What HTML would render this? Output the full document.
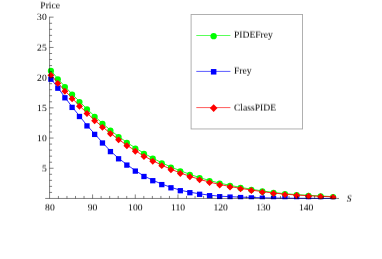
<!DOCTYPE html>
<html><head><meta charset="utf-8"><title>Price</title>
<style>html,body{margin:0;padding:0;background:#fff;}body{width:382px;height:259px;overflow:hidden;position:relative;font-family:"Liberation Serif",serif;}svg.m{position:absolute;left:0;top:0;}svg.l{position:absolute;will-change:transform;overflow:visible;font-family:"Liberation Serif",serif;font-size:9.6px;fill:#000;text-rendering:geometricPrecision;}</style>
</head><body>
<svg width="382" height="259" viewBox="0 0 382 259" class="m" style="will-change:transform;opacity:0.999">
<defs><clipPath id="pc"><rect x="40" y="10" width="305" height="189.3"/></clipPath></defs>
<rect width="382" height="259" fill="#fff"/>
<g clip-path="url(#pc)">
<polyline points="50.90,70.46 57.83,78.74 64.90,86.55 72.11,94.05 79.47,101.51 86.98,108.93 94.64,116.27 102.46,123.40 110.43,130.20 118.57,136.48 126.86,142.35 135.33,147.98 143.97,153.23 152.78,158.19 161.78,162.77 170.95,166.99 180.31,170.78 189.86,174.33 199.60,177.60 209.54,180.54 219.68,183.09 230.03,185.37 240.58,187.38 251.35,189.23 262.33,190.95 273.54,192.46 284.98,193.67 296.65,194.60 308.55,195.33 320.69,195.97 333.08,196.61" fill="none" stroke="#00ff00" stroke-width="0.85"/>
<circle cx="50.90" cy="70.96" r="3.1" fill="#00ff00"/>
<circle cx="57.83" cy="79.24" r="3.1" fill="#00ff00"/>
<circle cx="64.90" cy="87.05" r="3.1" fill="#00ff00"/>
<circle cx="72.11" cy="94.55" r="3.1" fill="#00ff00"/>
<circle cx="79.47" cy="102.01" r="3.1" fill="#00ff00"/>
<circle cx="86.98" cy="109.43" r="3.1" fill="#00ff00"/>
<circle cx="94.64" cy="116.77" r="3.1" fill="#00ff00"/>
<circle cx="102.46" cy="123.90" r="3.1" fill="#00ff00"/>
<circle cx="110.43" cy="130.70" r="3.1" fill="#00ff00"/>
<circle cx="118.57" cy="136.98" r="3.1" fill="#00ff00"/>
<circle cx="126.86" cy="142.85" r="3.1" fill="#00ff00"/>
<circle cx="135.33" cy="148.48" r="3.1" fill="#00ff00"/>
<circle cx="143.97" cy="153.73" r="3.1" fill="#00ff00"/>
<circle cx="152.78" cy="158.69" r="3.1" fill="#00ff00"/>
<circle cx="161.78" cy="163.27" r="3.1" fill="#00ff00"/>
<circle cx="170.95" cy="167.49" r="3.1" fill="#00ff00"/>
<circle cx="180.31" cy="171.28" r="3.1" fill="#00ff00"/>
<circle cx="189.86" cy="174.83" r="3.1" fill="#00ff00"/>
<circle cx="199.60" cy="178.10" r="3.1" fill="#00ff00"/>
<circle cx="209.54" cy="181.04" r="3.1" fill="#00ff00"/>
<circle cx="219.68" cy="183.59" r="3.1" fill="#00ff00"/>
<circle cx="230.03" cy="185.87" r="3.1" fill="#00ff00"/>
<circle cx="240.58" cy="187.88" r="3.1" fill="#00ff00"/>
<circle cx="251.35" cy="189.73" r="3.1" fill="#00ff00"/>
<circle cx="262.33" cy="191.45" r="3.1" fill="#00ff00"/>
<circle cx="273.54" cy="192.96" r="3.1" fill="#00ff00"/>
<circle cx="284.98" cy="194.17" r="3.1" fill="#00ff00"/>
<circle cx="296.65" cy="195.10" r="3.1" fill="#00ff00"/>
<circle cx="308.55" cy="195.83" r="3.1" fill="#00ff00"/>
<circle cx="320.69" cy="196.47" r="3.1" fill="#00ff00"/>
<circle cx="333.08" cy="197.11" r="3.1" fill="#00ff00"/>
<polyline points="50.90,78.70 57.83,87.70 64.90,97.30 72.11,106.90 79.47,116.00 86.98,125.40 94.64,133.90 102.46,142.50 110.43,151.10 118.57,158.30 126.86,164.60 135.33,170.60 143.97,176.00 152.78,180.20 161.78,184.10 170.95,187.30 180.31,190.20 189.86,192.20 199.60,193.80 209.54,195.20 219.68,196.20 230.03,196.65 240.58,197.10 251.35,197.50 262.33,197.80 273.54,198.05 284.98,198.20 296.65,198.30 308.55,198.35 320.69,198.40 333.08,198.40" fill="none" stroke="#0000ff" stroke-width="0.85"/>
<rect x="48.25" y="76.55" width="5.3" height="5.3" fill="#0000ff"/>
<rect x="55.18" y="85.55" width="5.3" height="5.3" fill="#0000ff"/>
<rect x="62.25" y="95.15" width="5.3" height="5.3" fill="#0000ff"/>
<rect x="69.46" y="104.75" width="5.3" height="5.3" fill="#0000ff"/>
<rect x="76.82" y="113.85" width="5.3" height="5.3" fill="#0000ff"/>
<rect x="84.33" y="123.25" width="5.3" height="5.3" fill="#0000ff"/>
<rect x="91.99" y="131.75" width="5.3" height="5.3" fill="#0000ff"/>
<rect x="99.81" y="140.35" width="5.3" height="5.3" fill="#0000ff"/>
<rect x="107.78" y="148.95" width="5.3" height="5.3" fill="#0000ff"/>
<rect x="115.92" y="156.15" width="5.3" height="5.3" fill="#0000ff"/>
<rect x="124.21" y="162.45" width="5.3" height="5.3" fill="#0000ff"/>
<rect x="132.68" y="168.45" width="5.3" height="5.3" fill="#0000ff"/>
<rect x="141.32" y="173.85" width="5.3" height="5.3" fill="#0000ff"/>
<rect x="150.13" y="178.05" width="5.3" height="5.3" fill="#0000ff"/>
<rect x="159.13" y="181.95" width="5.3" height="5.3" fill="#0000ff"/>
<rect x="168.30" y="185.15" width="5.3" height="5.3" fill="#0000ff"/>
<rect x="177.66" y="188.05" width="5.3" height="5.3" fill="#0000ff"/>
<rect x="187.21" y="190.05" width="5.3" height="5.3" fill="#0000ff"/>
<rect x="196.95" y="191.65" width="5.3" height="5.3" fill="#0000ff"/>
<rect x="206.89" y="193.05" width="5.3" height="5.3" fill="#0000ff"/>
<rect x="217.03" y="194.05" width="5.3" height="5.3" fill="#0000ff"/>
<rect x="227.38" y="194.45" width="5.3" height="5.3" fill="#0000ff"/>
<rect x="237.93" y="194.90" width="5.3" height="5.3" fill="#0000ff"/>
<rect x="248.70" y="195.25" width="5.3" height="5.3" fill="#0000ff"/>
<rect x="259.68" y="195.55" width="5.3" height="5.3" fill="#0000ff"/>
<rect x="270.89" y="195.80" width="5.3" height="5.3" fill="#0000ff"/>
<rect x="282.33" y="195.90" width="5.3" height="5.3" fill="#0000ff"/>
<rect x="294.00" y="195.95" width="5.3" height="5.3" fill="#0000ff"/>
<rect x="305.90" y="195.95" width="5.3" height="5.3" fill="#0000ff"/>
<rect x="318.04" y="196.00" width="5.3" height="5.3" fill="#0000ff"/>
<rect x="330.43" y="196.00" width="5.3" height="5.3" fill="#0000ff"/>
<polyline points="50.90,74.67 57.83,82.85 64.90,90.70 72.11,98.28 79.47,105.75 86.98,113.03 94.64,120.18 102.46,126.87 110.43,133.29 118.57,139.37 126.86,145.24 135.33,150.79 143.97,155.97 152.78,160.72 161.78,165.17 170.95,169.23 180.31,172.93 189.86,176.31 199.60,179.35 209.54,182.09 219.68,184.46 230.03,186.51 240.58,188.34 251.35,190.05 262.33,191.65 273.54,193.07 284.98,194.15 296.65,195.01 308.55,195.71 320.69,196.31 333.08,196.86" fill="none" stroke="#ff0000" stroke-width="0.85"/>
<path d="M47.45,75.17L50.90,71.72L54.35,75.17L50.90,78.62Z" fill="#ff0000"/>
<path d="M54.38,83.35L57.83,79.90L61.28,83.35L57.83,86.80Z" fill="#ff0000"/>
<path d="M61.45,91.20L64.90,87.75L68.35,91.20L64.90,94.65Z" fill="#ff0000"/>
<path d="M68.66,98.78L72.11,95.33L75.56,98.78L72.11,102.23Z" fill="#ff0000"/>
<path d="M76.02,106.25L79.47,102.80L82.92,106.25L79.47,109.70Z" fill="#ff0000"/>
<path d="M83.53,113.53L86.98,110.08L90.43,113.53L86.98,116.98Z" fill="#ff0000"/>
<path d="M91.19,120.68L94.64,117.23L98.09,120.68L94.64,124.13Z" fill="#ff0000"/>
<path d="M99.01,127.37L102.46,123.92L105.91,127.37L102.46,130.82Z" fill="#ff0000"/>
<path d="M106.98,133.79L110.43,130.34L113.88,133.79L110.43,137.24Z" fill="#ff0000"/>
<path d="M115.12,139.87L118.57,136.42L122.02,139.87L118.57,143.32Z" fill="#ff0000"/>
<path d="M123.41,145.74L126.86,142.29L130.31,145.74L126.86,149.19Z" fill="#ff0000"/>
<path d="M131.88,151.29L135.33,147.84L138.78,151.29L135.33,154.74Z" fill="#ff0000"/>
<path d="M140.52,156.47L143.97,153.02L147.42,156.47L143.97,159.92Z" fill="#ff0000"/>
<path d="M149.33,161.22L152.78,157.77L156.23,161.22L152.78,164.67Z" fill="#ff0000"/>
<path d="M158.33,165.67L161.78,162.22L165.23,165.67L161.78,169.12Z" fill="#ff0000"/>
<path d="M167.50,169.73L170.95,166.28L174.40,169.73L170.95,173.18Z" fill="#ff0000"/>
<path d="M176.86,173.43L180.31,169.98L183.76,173.43L180.31,176.88Z" fill="#ff0000"/>
<path d="M186.41,176.81L189.86,173.36L193.31,176.81L189.86,180.26Z" fill="#ff0000"/>
<path d="M196.15,179.85L199.60,176.40L203.05,179.85L199.60,183.30Z" fill="#ff0000"/>
<path d="M206.09,182.59L209.54,179.14L212.99,182.59L209.54,186.04Z" fill="#ff0000"/>
<path d="M216.23,184.96L219.68,181.51L223.13,184.96L219.68,188.41Z" fill="#ff0000"/>
<path d="M226.58,187.01L230.03,183.56L233.48,187.01L230.03,190.46Z" fill="#ff0000"/>
<path d="M237.13,188.84L240.58,185.39L244.03,188.84L240.58,192.29Z" fill="#ff0000"/>
<path d="M247.90,190.55L251.35,187.10L254.80,190.55L251.35,194.00Z" fill="#ff0000"/>
<path d="M258.88,192.15L262.33,188.70L265.78,192.15L262.33,195.60Z" fill="#ff0000"/>
<path d="M270.09,193.57L273.54,190.12L276.99,193.57L273.54,197.02Z" fill="#ff0000"/>
<path d="M281.53,194.65L284.98,191.20L288.43,194.65L284.98,198.10Z" fill="#ff0000"/>
<path d="M293.20,195.51L296.65,192.06L300.10,195.51L296.65,198.96Z" fill="#ff0000"/>
<path d="M305.10,196.21L308.55,192.76L312.00,196.21L308.55,199.66Z" fill="#ff0000"/>
<path d="M317.24,196.81L320.69,193.36L324.14,196.81L320.69,200.26Z" fill="#ff0000"/>
<path d="M329.63,197.36L333.08,193.91L336.53,197.36L333.08,200.81Z" fill="#ff0000"/>
</g>
<path d="M45.2,198.45H339M49.57,16.75V198.45M58.42,198.45V195.95M66.96,198.45V195.95M75.50,198.45V195.95M84.04,198.45V195.95M92.58,198.45V194.45M101.12,198.45V195.95M109.66,198.45V195.95M118.20,198.45V195.95M126.74,198.45V195.95M135.28,198.45V194.45M143.82,198.45V195.95M152.36,198.45V195.95M160.90,198.45V195.95M169.44,198.45V195.95M177.98,198.45V194.45M186.52,198.45V195.95M195.06,198.45V195.95M203.60,198.45V195.95M212.14,198.45V195.95M220.68,198.45V194.45M229.22,198.45V195.95M237.76,198.45V195.95M246.30,198.45V195.95M254.84,198.45V195.95M263.38,198.45V194.45M271.92,198.45V195.95M280.46,198.45V195.95M289.00,198.45V195.95M297.54,198.45V195.95M306.08,198.45V194.45M314.62,198.45V195.95M323.16,198.45V195.95M331.70,198.45V195.95M49.57,192.41H52.07M49.57,186.37H52.07M49.57,180.33H52.07M49.57,174.29H52.07M49.57,168.25H53.57M49.57,162.21H52.07M49.57,156.17H52.07M49.57,150.13H52.07M49.57,144.09H52.07M49.57,138.05H53.57M49.57,132.01H52.07M49.57,125.97H52.07M49.57,119.93H52.07M49.57,113.89H52.07M49.57,107.85H53.57M49.57,101.81H52.07M49.57,95.77H52.07M49.57,89.73H52.07M49.57,83.69H52.07M49.57,77.65H53.57M49.57,71.61H52.07M49.57,65.57H52.07M49.57,59.53H52.07M49.57,53.49H52.07M49.57,47.45H53.57M49.57,41.41H52.07M49.57,35.37H52.07M49.57,29.33H52.07M49.57,23.29H52.07M49.57,17.15H53.57" stroke="#000" stroke-opacity="0.55" stroke-width="0.9" fill="none"/>
<rect x="191.1" y="14.45" width="111.45" height="114.5" fill="#fff" stroke="#a8a8a8" stroke-width="0.9"/>
<line x1="196.3" y1="35.5" x2="230.4" y2="35.5" stroke="#00ff00" stroke-width="0.65"/>
<circle cx="213.65" cy="36.15" r="3.15" fill="#00ff00"/>
<line x1="196.3" y1="71.4" x2="230.4" y2="71.4" stroke="#0000ff" stroke-width="0.65"/>
<rect x="210.90" y="69.05" width="5.5" height="5.5" fill="#0000ff"/>
<line x1="196.3" y1="107.6" x2="230.4" y2="107.6" stroke="#ff0000" stroke-width="0.65"/>
<path d="M209.80,108.10L213.65,104.25L217.50,108.10L213.65,111.95Z" fill="#ff0000"/>
</svg>
<svg class="l" width="100" height="24" style="left:-1px;top:194px;transform:translate(0px,0.50px) rotate(0.001deg)"><text x="50.88" y="16" text-anchor="middle">80</text></svg>
<svg class="l" width="100" height="24" style="left:42px;top:194px;transform:translate(0px,0.50px) rotate(0.001deg)"><text x="50.58" y="16" text-anchor="middle">90</text></svg>
<svg class="l" width="100" height="24" style="left:85px;top:194px;transform:translate(0px,0.50px) rotate(0.001deg)"><text x="50.28" y="16" text-anchor="middle">100</text></svg>
<svg class="l" width="100" height="24" style="left:127px;top:194px;transform:translate(0px,0.50px) rotate(0.001deg)"><text x="50.98" y="16" text-anchor="middle">110</text></svg>
<svg class="l" width="100" height="24" style="left:170px;top:194px;transform:translate(0px,0.50px) rotate(0.001deg)"><text x="50.68" y="16" text-anchor="middle">120</text></svg>
<svg class="l" width="100" height="24" style="left:213px;top:194px;transform:translate(0px,0.50px) rotate(0.001deg)"><text x="50.38" y="16" text-anchor="middle">130</text></svg>
<svg class="l" width="100" height="24" style="left:256px;top:194px;transform:translate(0px,0.50px) rotate(0.001deg)"><text x="50.08" y="16" text-anchor="middle">140</text></svg>
<svg class="l" width="100" height="24" style="left:-4px;top:155px;transform:translate(0px,0.50px) rotate(0.001deg)"><text x="50.70" y="16" text-anchor="end">5</text></svg>
<svg class="l" width="100" height="24" style="left:-4px;top:125px;transform:translate(0px,0.30px) rotate(0.001deg)"><text x="50.70" y="16" text-anchor="end">10</text></svg>
<svg class="l" width="100" height="24" style="left:-4px;top:95px;transform:translate(0px,0.10px) rotate(0.001deg)"><text x="50.70" y="16" text-anchor="end">15</text></svg>
<svg class="l" width="100" height="24" style="left:-4px;top:64px;transform:translate(0px,0.90px) rotate(0.001deg)"><text x="50.70" y="16" text-anchor="end">20</text></svg>
<svg class="l" width="100" height="24" style="left:-4px;top:34px;transform:translate(0px,0.70px) rotate(0.001deg)"><text x="50.70" y="16" text-anchor="end">25</text></svg>
<svg class="l" width="100" height="24" style="left:-4px;top:3px;transform:translate(0px,0.95px) rotate(0.001deg)"><text x="50.70" y="16" text-anchor="end">30</text></svg>
<svg class="l" width="100" height="24" style="left:0px;top:-8px;transform:translate(0px,0.45px) rotate(0.001deg)"><text x="50.20" y="16" text-anchor="middle">Price</text></svg>
<svg class="l" width="100" height="24" style="left:299px;top:185px;transform:translate(0px,0.60px) rotate(0.001deg)"><text x="50.20" y="16" text-anchor="middle" font-style="italic">S</text></svg>
<svg class="l" width="100" height="24" style="left:183px;top:21px;transform:translate(0px,0.70px) rotate(0.001deg)"><text x="50.95" y="16" text-anchor="start">PIDEFrey</text></svg>
<svg class="l" width="100" height="24" style="left:183px;top:57px;transform:translate(0px,0.70px) rotate(0.001deg)"><text x="50.95" y="16" text-anchor="start">Frey</text></svg>
<svg class="l" width="100" height="24" style="left:183px;top:94px;transform:translate(0px,0.60px) rotate(0.001deg)"><text x="50.95" y="16" text-anchor="start">ClassPIDE</text></svg>
</body></html>
